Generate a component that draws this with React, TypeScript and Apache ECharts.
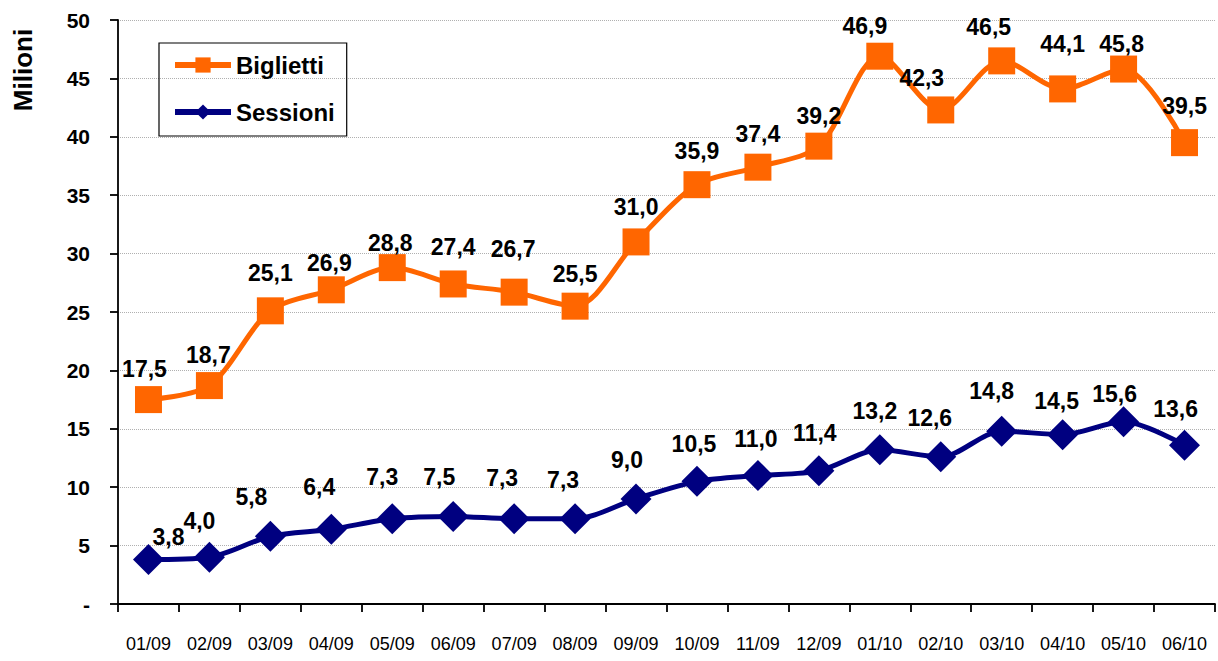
import React, { useEffect, useRef } from "react";
import * as echarts from "echarts";

const categories = ["01/09","02/09","03/09","04/09","05/09","06/09","07/09","08/09","09/09","10/09","11/09","12/09","01/10","02/10","03/10","04/10","05/10","06/10"];
const biglietti = [17.5,18.7,25.1,26.9,28.8,27.4,26.7,25.5,31.0,35.9,37.4,39.2,46.9,42.3,46.5,44.1,45.8,39.5];
const sessioni = [3.8,4.0,5.8,6.4,7.3,7.5,7.3,7.3,9.0,10.5,11.0,11.4,13.2,12.6,14.8,14.5,15.6,13.6];
const yTicks = [0,5,10,15,20,25,30,35,40,45,50];

const ORANGE = "#FF6600";
const NAVY = "#000080";
const SANS = "'Liberation Sans', Arial, Helvetica, sans-serif";

const fmt = (v: number) => v.toFixed(1).replace(".", ",");

// label nudges (style only)
const bigNudge: [number, number][] = [
  [-4, 2], [-1, 2], [0, -5], [-2, 6], [-2, 8], [0, -4], [-1, -10], [0, 1], [0, -2],
  [0, -1], [0, 0], [0, 3], [-15, 3], [-19, 1], [-13, -1], [0, -12], [-2, 8], [0, -4],
];
const sesNudge: [number, number][] = [
  [20, 16], [-10, 3], [-19, 0], [-12, -3], [-10, -3], [-14, 0], [-12, -2], [-12, 0], [-9, 0],
  [-3, 2], [-2, 2], [-4, 1], [-5, 0], [-11, 0], [-10, -1], [-6, 5], [-9, 11], [-9, 3],
];

export default function App() {
  const ref = useRef<HTMLDivElement>(null);
  useEffect(() => {
    document.body.style.margin = "0";
    const chart = echarts.init(ref.current!, null, { renderer: "svg" });
    const labelBase = {
      show: true,
      position: "top" as const,
      fontFamily: SANS,
      fontWeight: "bold" as const,
      fontSize: 23,
      color: "#000",
      formatter: (p: any) => fmt(p.value),
    };
    chart.setOption({
      animation: false,
      backgroundColor: "#fff",
      grid: { left: 118, right: 3, top: 20, bottom: 57, containLabel: false },
      legend: {
        orient: "vertical",
        left: 159,
        top: 43,
        padding: [10, 12, 12, 13],
        borderColor: "#000",
        borderWidth: 1.2,
        itemWidth: 56,
        itemHeight: 19,
        itemGap: 23,
        lineStyle: { width: 6 },
        textStyle: { fontFamily: SANS, fontWeight: "bold", fontSize: 24, color: "#000" },
        data: ["Biglietti", "Sessioni"],
      },
      xAxis: {
        type: "category",
        data: categories,
        boundaryGap: true,
        axisLine: { lineStyle: { color: "#000", width: 1.8 } },
        axisTick: { show: true, interval: 0, length: 8, lineStyle: { color: "#000", width: 1.8 } },
        axisLabel: { interval: 0, hideOverlap: false, fontFamily: SANS, fontSize: 18, color: "#000", margin: 31 },
      },
      yAxis: {
        type: "value",
        min: yTicks[0],
        max: yTicks[yTicks.length - 1],
        interval: 5,
        axisLine: { show: true, lineStyle: { color: "#000", width: 1.8 } },
        axisTick: { show: true, length: 8, lineStyle: { color: "#000", width: 1.8 } },
        axisLabel: {
          fontFamily: SANS,
          fontWeight: "bold",
          fontSize: 21,
          color: "#000",
          margin: 28,
          formatter: (v: number) => (v === 0 ? "-" : String(v)),
        },
        splitLine: { show: true, lineStyle: { color: "#b0b0b0", type: "dotted", width: 1 } },
      },
      graphic: [
        {
          type: "text",
          x: 23,
          y: 70,
          rotation: Math.PI / 2,
          style: {
            text: "Milioni",
            fontFamily: SANS,
            fontWeight: "bold",
            fontSize: 26,
            fill: "#000",
            textAlign: "center",
            textVerticalAlign: "middle",
          },
        },
      ],
      series: [
        {
          name: "Biglietti",
          type: "line",
          smooth: 0.3,
          data: biglietti.map((v, i) => ({ value: v, label: { offset: bigNudge[i] } })),
          symbol: "rect",
          symbolSize: 27,
          lineStyle: { color: ORANGE, width: 5 },
          itemStyle: { color: ORANGE },
          label: { ...labelBase, distance: 8 },
          z: 3,
        },
        {
          name: "Sessioni",
          type: "line",
          smooth: 0.3,
          data: sessioni.map((v, i) => ({ value: v, label: { offset: sesNudge[i] } })),
          symbol: "diamond",
          symbolSize: 31,
          lineStyle: { color: NAVY, width: 5 },
          itemStyle: { color: NAVY },
          label: { ...labelBase, distance: 12 },
          z: 3,
        },
      ],
    });
    return () => chart.dispose();
  }, []);
  return <div ref={ref} style={{ width: 1218, height: 661 }} />;
}
